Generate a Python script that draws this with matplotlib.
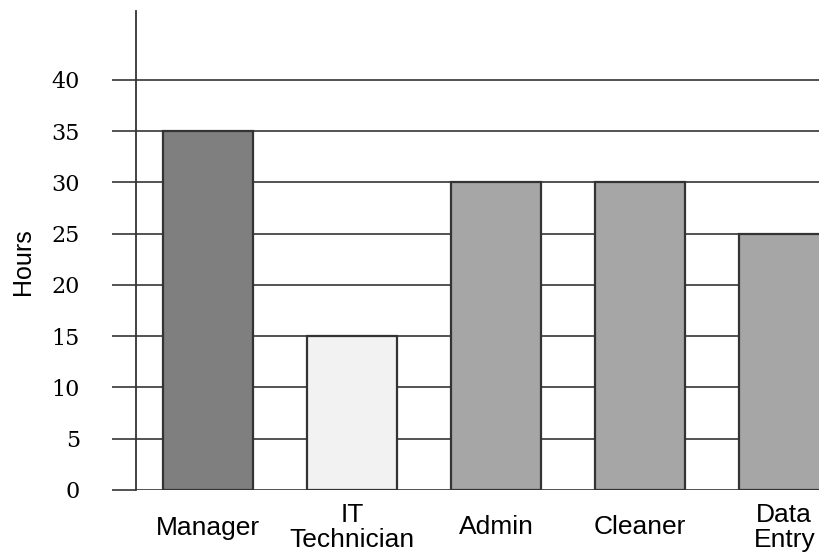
import numpy as np
import matplotlib.pyplot as plt

# data
roles = ["Manager", "IT\nTechnician", "Admin", "Cleaner", "Data\nEntry"]
hours = [35, 15, 30, 30, 25]
bar_colors = ["#7f7f7f", "#f2f2f2", "#a6a6a6", "#a6a6a6", "#a6a6a6"]
y_ticks = [0, 5, 10, 15, 20, 25, 30, 35, 40]

fig = plt.figure(figsize=(8.19, 5.6), dpi=100)
ax = fig.add_axes([136 / 819, 70 / 560, 683 / 819, 479 / 560])

x = np.arange(len(roles))
ax.bar(x, hours, width=0.625, color=bar_colors, edgecolor="#333333",
       linewidth=1.6, zorder=3)

ax.set_xlim(-0.498, 4.241)
ax.set_ylim(0, 46.7)
ax.set_yticks(y_ticks)
ax.set_yticklabels([str(t) for t in y_ticks], family="DejaVu Serif", fontsize=16)
ax.yaxis.grid(True, color="#444444", linewidth=1.3, zorder=0)
ax.set_axisbelow(True)

ax.tick_params(axis="y", direction="out", length=17.3, width=1.3,
               color="#444444", pad=23)
ax.set_xticks(x)
ax.set_xticklabels(roles, family="Liberation Sans", fontsize=19,
                   va="center", linespacing=1.1)
ax.tick_params(axis="x", length=0, pad=27)

for side in ["top", "right", "bottom"]:
    ax.spines[side].set_visible(False)
ax.spines["left"].set_color("#333333")
ax.spines["left"].set_linewidth(1.3)

ax.set_ylabel("Hours", family="Liberation Sans", fontsize=18)
ax.yaxis.set_label_coords(-0.148, 0.476)

fig.savefig("out.png", dpi=100)
